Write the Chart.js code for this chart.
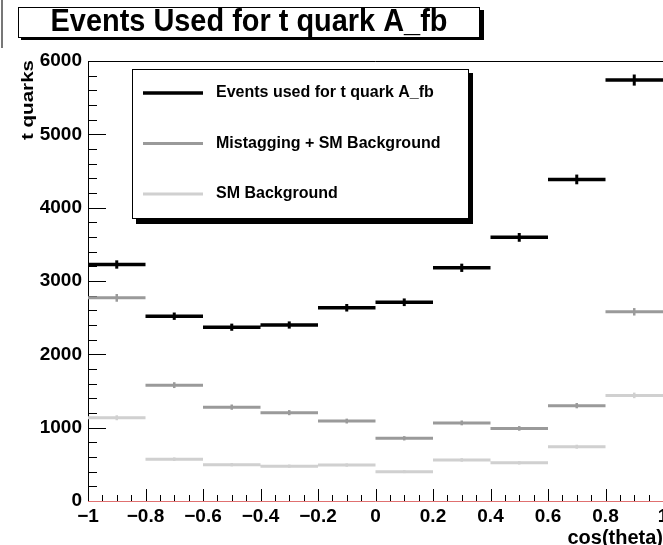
<!DOCTYPE html>
<html>
<head>
<meta charset="utf-8">
<title>Events Used for t quark A_fb</title>
<script src="https://cdn.jsdelivr.net/npm/chart.js@4"></script>
<style>
  html, body { margin: 0; padding: 0; background: #fff; }
  #wrap { position: relative; width: 663px; height: 545px; }
</style>
</head>
<body>
<div id="wrap"><canvas id="chart" width="663" height="545"></canvas></div>
<script>
// cos(theta) bins and per-bin event counts
const binEdges = [-1, -0.8, -0.6, -0.4, -0.2, 0, 0.2, 0.4, 0.6, 0.8, 1];
const eventsUsed = [3225, 2520, 2370, 2400, 2635, 2710, 3180, 3595, 4385, 5740];
const mistagSM = [2770, 1580, 1280, 1205, 1090, 855, 1065, 990, 1300, 2580];
const smBackground = [1135, 570, 495, 475, 490, 400, 560, 520, 740, 1440];

const seriesNames = ['Events used for t quark A_fb', 'Mistagging + SM Background', 'SM Background'];
const seriesColors = ['#000000', '#9a9a9a', '#d0d0d0'];

const xTicks = [-1, -0.8, -0.6, -0.4, -0.2, 0, 0.2, 0.4, 0.6, 0.8, 1];
const yTicks = [0, 1000, 2000, 3000, 4000, 5000, 6000];

const FONT = "'Liberation Sans', Arial, Helvetica, sans-serif";

// each bin becomes a flat horizontal step, broken by a null so bins don't join
function steps(values) {
    const pts = [];
    values.forEach((v, i) => {
        pts.push({ x: binEdges[i], y: v }, { x: binEdges[i + 1], y: v }, { x: binEdges[i + 1], y: null });
    });
    return pts;
}

const allSeries = [eventsUsed, mistagSM, smBackground];

// vertical sqrt(N) error bars at bin centres
const errorBars = {
    id: 'errorBars',
    afterDatasetsDraw(chart) {
        const { ctx, scales: { x, y } } = chart;
        ctx.save();
        allSeries.forEach((vals, k) => {
            ctx.strokeStyle = seriesColors[k];
            ctx.lineWidth = k === 0 ? 3 : 2.5;
            vals.forEach((v, i) => {
                const px = x.getPixelForValue((binEdges[i] + binEdges[i + 1]) / 2);
                const e = Math.sqrt(v);
                ctx.beginPath();
                ctx.moveTo(px, y.getPixelForValue(v - e));
                ctx.lineTo(px, y.getPixelForValue(v + e));
                ctx.stroke();
            });
        });
        ctx.restore();
    }
};

// text squeezed or stretched horizontally to a given width
function fitText(ctx, text, cx, by, width) {
    const w = ctx.measureText(text).width;
    ctx.save();
    ctx.translate(cx, by);
    ctx.scale(width / w, 1);
    ctx.textAlign = 'center';
    ctx.fillText(text, 0, 0);
    ctx.restore();
}

// ROOT-style frame: inward ticks, red zero line, title box, legend box
const frame = {
    id: 'frame',
    beforeDatasetsDraw(chart) {
        const { ctx, chartArea: a, scales: { x, y } } = chart;
        ctx.save();
        ctx.strokeStyle = '#000';
        ctx.lineWidth = 1;
        ctx.beginPath();
        ctx.moveTo(a.left + 0.5, a.bottom);
        ctx.lineTo(a.left + 0.5, a.top + 0.5);
        ctx.lineTo(a.right, a.top + 0.5);
        ctx.stroke();
        // y ticks every 200, long every 1000
        for (let v = 0; v <= 6000; v += 200) {
            const py = Math.round(y.getPixelForValue(v)) + 0.5;
            const len = v % 1000 === 0 ? 18 : 9;
            ctx.beginPath();
            ctx.moveTo(a.left, py);
            ctx.lineTo(a.left + len, py);
            ctx.stroke();
        }
        // x ticks every 0.05, long every 0.2
        for (let i = 0; i <= 40; i++) {
            const v = -1 + i * 0.05;
            const px = Math.round(x.getPixelForValue(v)) + 0.5;
            const len = i % 4 === 0 ? 12 : 6;
            ctx.beginPath();
            ctx.moveTo(px, a.bottom);
            ctx.lineTo(px, a.bottom - len);
            ctx.stroke();
        }
        ctx.strokeStyle = '#e07070';
        ctx.beginPath();
        ctx.moveTo(a.left, Math.round(y.getPixelForValue(0)) + 0.5);
        ctx.lineTo(a.right, Math.round(y.getPixelForValue(0)) + 0.5);
        ctx.stroke();
        ctx.restore();
    },
    afterDraw(chart) {
        const { ctx } = chart;
        ctx.save();

        // stray edge of the neighbouring pad
        ctx.fillStyle = '#777';
        ctx.fillRect(1, 0, 2, 48);

        // title box with drop shadow
        ctx.fillStyle = '#000';
        ctx.fillRect(21, 10, 463, 30);
        ctx.fillStyle = '#fff';
        ctx.fillRect(18, 7, 462, 31);
        ctx.strokeStyle = '#000';
        ctx.lineWidth = 1;
        ctx.strokeRect(18.5, 7.5, 461, 30);
        ctx.fillStyle = '#000';
        ctx.font = 'bold 31px ' + FONT;
        ctx.textBaseline = 'alphabetic';
        fitText(ctx, 'Events Used for t quark A_fb', 249, 31, 397);

        // legend box with drop shadow
        ctx.fillStyle = '#000';
        ctx.fillRect(136, 73, 337, 151);
        ctx.fillStyle = '#fff';
        ctx.fillRect(132, 69, 337, 150);
        ctx.strokeRect(132.5, 69.5, 336, 149);
        ctx.font = 'bold 16px ' + FONT;
        ctx.textAlign = 'left';
        ctx.textBaseline = 'middle';
        seriesNames.forEach((name, k) => {
            const ly = 93 + k * 50.5;
            ctx.strokeStyle = seriesColors[k];
            ctx.lineWidth = k === 0 ? 3.5 : 3;
            ctx.beginPath();
            ctx.moveTo(143, ly);
            ctx.lineTo(203, ly);
            ctx.stroke();
            ctx.fillStyle = '#000';
            ctx.fillText(name, 216, ly);
        });

        // axis titles
        ctx.font = 'bold 20px ' + FONT;
        ctx.textAlign = 'right';
        ctx.textBaseline = 'alphabetic';
        ctx.fillText('cos(theta)', 663, 544);
        ctx.translate(33, 60);
        ctx.rotate(-Math.PI / 2);
        ctx.font = 'bold 17px ' + FONT;
        ctx.textAlign = 'right';
        const w = ctx.measureText('t quarks').width;
        ctx.scale(80 / w, 1);
        ctx.fillText('t quarks', 0, 0);
        ctx.restore();
    }
};

new Chart(document.getElementById('chart').getContext('2d'), {
    type: 'scatter',
    data: {
        datasets: allSeries.map((vals, k) => ({
            label: seriesNames[k],
            data: steps(vals),
            showLine: true,
            spanGaps: false,
            borderColor: seriesColors[k],
            borderWidth: k === 0 ? 3.5 : 3,
            borderCapStyle: 'butt',
            pointRadius: 0,
            order: k
        })).reverse()
    },
    options: {
        responsive: false,
        animation: false,
        devicePixelRatio: 1,
        layout: { padding: { top: 61, left: 0, right: 0, bottom: 0 } },
        plugins: { legend: { display: false }, title: { display: false }, tooltip: { enabled: false } },
        scales: {
            x: {
                type: 'linear',
                min: -1,
                max: 1,
                grid: { display: false, drawTicks: false },
                border: { display: false },
                afterBuildTicks: s => { s.ticks = xTicks.map(v => ({ value: v })); },
                afterFit: s => { s.height = 44; s.paddingLeft = 0; s.paddingRight = 0; },
                ticks: {
                    padding: 4,
                    color: '#000',
                    font: { family: FONT, size: 19, weight: 'bold' },
                    maxRotation: 0,
                    autoSkip: false,
                    callback: v => (Math.round(v * 10) / 10).toString().replace('-', '\u2212')
                }
            },
            y: {
                min: 0,
                max: 6000,
                grid: { display: false, drawTicks: false },
                border: { display: false },
                afterBuildTicks: s => { s.ticks = yTicks.map(v => ({ value: v })); },
                afterFit: s => { s.width = 88; },
                ticks: {
                    padding: 6,
                    color: '#000',
                    font: { family: FONT, size: 19, weight: 'bold' },
                    callback: v => v.toString()
                }
            }
        }
    },
    plugins: [frame, errorBars]
});
</script>
</body>
</html>
